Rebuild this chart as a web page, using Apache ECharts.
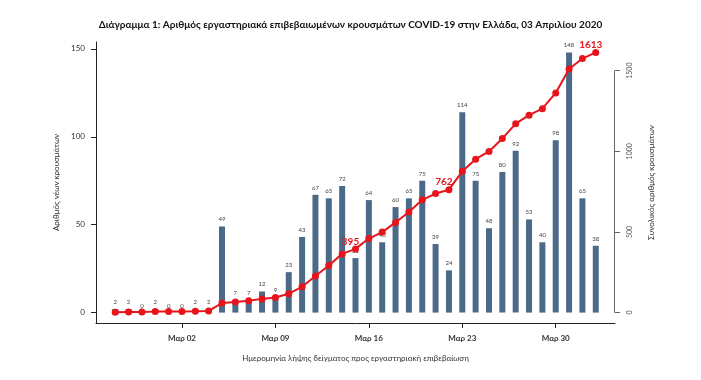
<!DOCTYPE html>
<html>
<head>
<meta charset="utf-8">
<script src="https://cdn.jsdelivr.net/npm/echarts@6/dist/echarts.min.js"></script>
<style>html,body{margin:0;padding:0;background:#fff;}#c{width:701px;height:380px;}</style>
</head>
<body>
<div id="c"></div>
<script>
// Dates of sample collection (Feb 26 – Apr 02, 2020)
var dates = ['02-26','02-27','02-28','02-29','03-01','03-02','03-03','03-04','03-05','03-06','03-07','03-08','03-09','03-10','03-11','03-12','03-13','03-14','03-15','03-16','03-17','03-18','03-19','03-20','03-21','03-22','03-23','03-24','03-25','03-26','03-27','03-28','03-29','03-30','03-31','04-01','04-02'];
// Daily new lab-confirmed cases
var newCases = [2,2,0,2,0,0,2,2,49,7,7,12,9,23,43,67,65,72,31,64,40,60,65,75,39,24,114,75,48,80,92,53,40,98,148,65,38];
// Cumulative cases
var totalCases = [2,4,4,6,6,6,8,10,59,66,73,85,94,117,160,227,292,364,395,459,499,559,624,699,738,762,876,951,999,1079,1171,1224,1264,1362,1510,1575,1613];
// X tick dates and labels
var tickDates = ['03-02','03-09','03-16','03-23','03-30'];
var tickLabels = ['Μαρ 02','Μαρ 09','Μαρ 16','Μαρ 23','Μαρ 30'];
// Cumulative values that are annotated
var annotatedDates = ['03-15','03-22','04-02'];
var leftTicks = [0,50,100,150];
var rightTicks = [0,500,1000,1500];

var FONT = 'Lato';
var n = dates.length;
var pad = (n - 1) * 0.04;
var tickIdx = tickDates.map(function(d){ return dates.indexOf(d); });
function ext(lo, hi){ var p = (hi - lo) * 0.04; return [lo - p, hi + p]; }
var lr = ext(0, Math.max.apply(null, newCases));
var rr = ext(0, Math.max.apply(null, totalCases));

var barData = newCases.map(function(v, i){ return [i, v]; });
var lineData = totalCases.map(function(v, i){
  var item = { value: [i, v] };
  if (annotatedDates.indexOf(dates[i]) >= 0) {
    item.label = { show: true };
  }
  return item;
});

var chart = echarts.init(document.getElementById('c'), null, { renderer: 'canvas' });
chart.setOption({
  animation: false,
  backgroundColor: '#ffffff',
  textStyle: { fontFamily: FONT },
  title: {
    text: 'Διάγραμμα 1: Αριθμός εργαστηριακά επιβεβαιωμένων κρουσμάτων COVID-19 στην Ελλάδα, 03 Απριλίου 2020',
    left: 'center', top: 15,
    textStyle: { fontFamily: FONT, fontWeight: 'bold', fontSize: 10, color: '#111' }
  },
  grid: { left: 96, right: 86, top: 42, bottom: 57 },
  xAxis: {
    type: 'value',
    min: -pad, max: n - 1 + pad,
    splitLine: { show: false },
    axisLine: { show: true, onZero: false, lineStyle: { color: '#222', width: 1 } },
    axisTick: { show: true, customValues: tickIdx, length: 5, lineStyle: { color: '#222' } },
    axisLabel: {
      customValues: tickIdx, margin: 11, fontSize: 8, fontWeight: 'bold', color: '#333', fontFamily: FONT,
      formatter: function(v){ var k = tickIdx.indexOf(Math.round(v)); return k >= 0 ? tickLabels[k] : ''; }
    },
    name: 'Ημερομηνία λήψης δείγματος προς εργαστηριακή επιβεβαίωση',
    nameLocation: 'middle', nameGap: 31,
    nameTextStyle: { fontSize: 8, color: '#333', fontFamily: FONT }
  },
  yAxis: [{
    type: 'value',
    min: lr[0], max: lr[1],
    position: 'left',
    splitLine: { show: false },
    axisLine: { show: true, onZero: false, lineStyle: { color: '#222', width: 1 } },
    axisTick: { show: true, customValues: leftTicks, length: 5, lineStyle: { color: '#222' } },
    axisLabel: { customValues: leftTicks, margin: 11, fontSize: 8, color: '#333', fontFamily: FONT },
    name: 'Αριθμός νέων κρουσμάτων',
    nameLocation: 'middle', nameGap: 32, nameRotate: 90,
    nameTextStyle: { fontSize: 8, color: '#333', fontFamily: FONT }
  }, {
    type: 'value',
    min: rr[0], max: rr[1],
    position: 'right',
    splitLine: { show: false },
    axisLine: { show: false, onZero: false },
    axisTick: { show: true, customValues: rightTicks, length: 5, lineStyle: { color: '#666' } },
    axisLabel: { customValues: rightTicks, margin: 11, fontSize: 7, color: '#555', rotate: 90, fontFamily: FONT,
      formatter: function(v){ return String(v); } },
    name: 'Συνολικός αριθμός κρουσμάτων',
    nameLocation: 'middle', nameGap: 32, nameRotate: 90,
    nameTextStyle: { fontSize: 8, color: '#333', fontFamily: FONT }
  }],
  series: [{
    type: 'bar',
    yAxisIndex: 0,
    data: barData,
    barWidth: 6,
    itemStyle: { color: '#4b6a87' },
    label: { show: true, position: 'top', distance: 4, fontSize: 6, color: '#444', fontFamily: FONT },
    z: 2
  }, {
    type: 'line',
    yAxisIndex: 1,
    data: lineData,
    clip: false,
    symbol: 'circle',
    symbolSize: 7,
    lineStyle: { color: '#e8141c', width: 2 },
    itemStyle: { color: '#e8141c' },
    label: {
      show: false, position: 'top', distance: 0, offset: [-5, 1],
      fontSize: 10, fontWeight: 'bold', color: '#e8141c', fontFamily: FONT,
      formatter: function(p){ return p.value[1]; }
    },
    markLine: {
      silent: true, symbol: 'none', label: { show: false },
      lineStyle: { color: '#666', width: 1, type: 'solid' },
      data: [[{ coord: [n - 1 + pad - 0.05, rightTicks[0]] }, { coord: [n - 1 + pad - 0.05, rightTicks[rightTicks.length - 1]] }]]
    },
    z: 3
  }]
});
</script>
</body>
</html>
